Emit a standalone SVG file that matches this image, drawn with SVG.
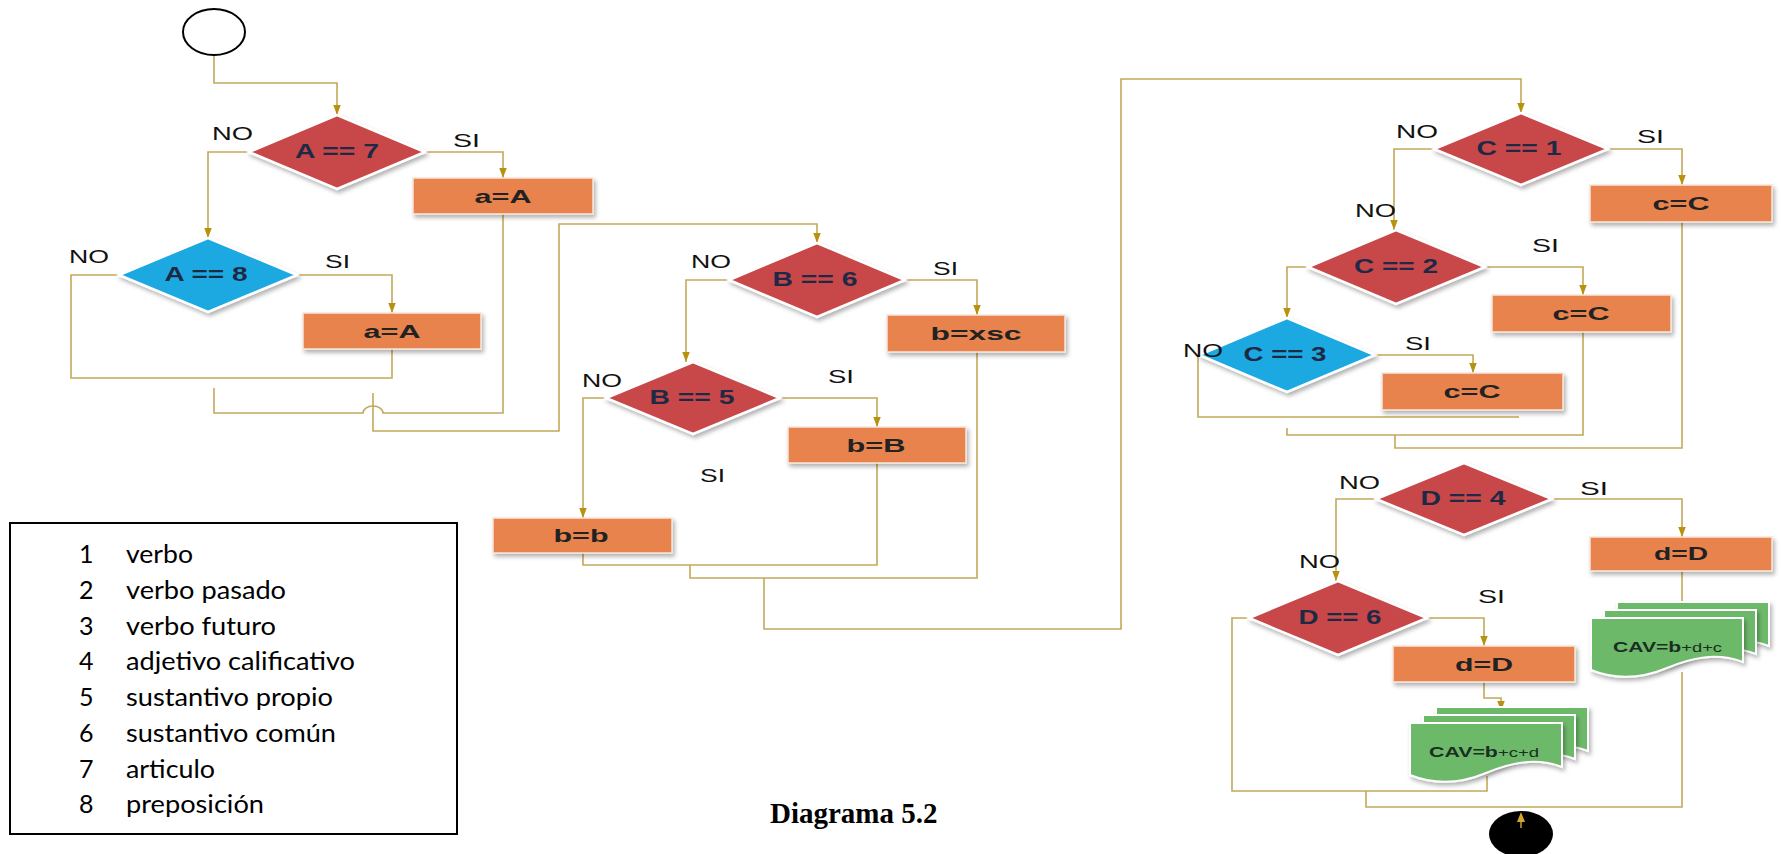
<svg xmlns="http://www.w3.org/2000/svg" width="1782" height="854" viewBox="0 0 1782 854">
<defs>
<style>
.bg{fill:#ffffff}
.cn{fill:none;stroke:#C2A95A;stroke-width:1.6}
.ar{marker-end:url(#arr)}
.dr{fill:#C8474A;stroke:#ffffff;stroke-width:2.5;filter:url(#sh)}
.db{fill:#1DA9E1;stroke:#ffffff;stroke-width:2.5;filter:url(#sh)}
.rc{fill:#E8834E;stroke:#f6e6dc;stroke-width:1.5;filter:url(#sh)}
.dc{fill:#6DB96B;stroke:#ffffff;stroke-width:2;filter:url(#sh)}
.nl{font-family:"Liberation Sans",Arial,sans-serif;font-weight:bold;font-size:21px;fill:#1E2A45;text-anchor:middle}
.rl{font-family:"Liberation Sans",Arial,sans-serif;font-weight:bold;font-size:19px;fill:#222222;text-anchor:middle}
.yn{font-family:"Liberation Sans",Arial,sans-serif;font-size:18px;fill:#111111}
.cv{font-family:"Liberation Sans",Arial,sans-serif;fill:#1B2E22}
.lg{font-family:Lato,"Open Sans",sans-serif;font-size:25px;fill:#000000}
.tt{font-family:"Liberation Serif","Times New Roman",serif;font-weight:bold;font-size:29px;fill:#000000}
</style>
<filter id="sh" x="-20%" y="-20%" width="140%" height="150%">
<feDropShadow dx="2" dy="3" stdDeviation="2" flood-color="#000000" flood-opacity="0.3"/>
</filter>
<marker id="arr" viewBox="0 0 12 10" refX="12" refY="5" markerWidth="10" markerHeight="12" markerUnits="userSpaceOnUse" orient="auto">
<path d="M0,0.5 L12,5 L0,9.5 Z" fill="#B8910E"/>
</marker>
<path id="doc" d="M0,0 H152 V44 C125,34 100,40 76,50 C52,60 25,62 0,52 Z"/>
</defs>
<rect class="bg" x="0" y="0" width="1782" height="854"/>

<g id="connectors">
<path class="cn ar" d="M214,55 V83 H337 V115"/>
<path class="cn ar" d="M249,152 H208 V238"/>
<path class="cn ar" d="M425,152 H503 V178"/>
<path class="cn ar" d="M297,275 H392 V313"/>
<path class="cn" d="M119,275 H71 V378 H392 V349"/>
<path class="cn" d="M214,388 V413 H363 A10,7 0 0 1 383,413 H503 V214"/>
<path class="cn ar" d="M373,393 V431 H559 V224 H817 V243"/>
<path class="cn ar" d="M905,280 H977 V315"/>
<path class="cn ar" d="M729,280 H686 V362"/>
<path class="cn ar" d="M780,398 H877 V427"/>
<path class="cn ar" d="M606,398 H583 V518"/>
<path class="cn" d="M583,553 V565 H877 V463"/>
<path class="cn" d="M690,565 V578 H977 V352"/>
<path class="cn ar" d="M764,578 V629 H1121 V79 H1521 V113"/>
<path class="cn ar" d="M1608,149 H1682 V185"/>
<path class="cn ar" d="M1434,149 H1394 V230"/>
<path class="cn ar" d="M1485,267 H1583 V295"/>
<path class="cn ar" d="M1308,267 H1287 V318"/>
<path class="cn ar" d="M1375,355 H1473 V373"/>
<path class="cn" d="M1198,355 V417 H1519"/>
<path class="cn" d="M1287,428 V435 H1583 V332"/>
<path class="cn" d="M1395,435 V448 H1682 V222"/>
<path class="cn ar" d="M1552,499 H1682 V537"/>
<path class="cn ar" d="M1376,499 H1336 V581"/>
<path class="cn" d="M1682,571 V602"/>
<path class="cn ar" d="M1427,618 H1484 V646"/>
<path class="cn ar" d="M1484,682 V698 H1501 V711"/>
<path class="cn" d="M1249,618 H1232 V791 H1487 V776"/>
<path class="cn" d="M1366,791 V807 H1682 V672"/>
</g>

<g id="start">
<ellipse cx="214" cy="32" rx="31" ry="23" fill="#ffffff" stroke="#000000" stroke-width="2"/>
</g>

<g id="dA7">
<polygon class="dr" points="337,115 425,152 337,189 249,152"/>
<text class="nl" x="337" y="158" textLength="84" lengthAdjust="spacingAndGlyphs">A == 7</text>
</g>
<g id="rA1">
<rect class="rc" x="413" y="178" width="180" height="36"/>
<text class="rl" x="503" y="203" textLength="57" lengthAdjust="spacingAndGlyphs">a=A</text>
</g>
<g id="dA8">
<polygon class="db" points="208,238 297,275 208,312 119,275"/>
<text class="nl" x="206" y="281" textLength="83" lengthAdjust="spacingAndGlyphs">A == 8</text>
</g>
<g id="rA2">
<rect class="rc" x="303" y="313" width="178" height="36"/>
<text class="rl" x="392" y="338" textLength="57" lengthAdjust="spacingAndGlyphs">a=A</text>
</g>

<g id="dB6">
<polygon class="dr" points="817,243 905,280 817,317 729,280"/>
<text class="nl" x="815" y="286" textLength="85" lengthAdjust="spacingAndGlyphs">B == 6</text>
</g>
<g id="rBxsc">
<rect class="rc" x="887" y="315" width="178" height="37"/>
<text class="rl" x="976" y="340" textLength="91" lengthAdjust="spacingAndGlyphs">b=xsc</text>
</g>
<g id="dB5">
<polygon class="dr" points="693,362 780,398 693,434 606,398"/>
<text class="nl" x="692" y="404" textLength="85" lengthAdjust="spacingAndGlyphs">B == 5</text>
</g>
<g id="rBB">
<rect class="rc" x="788" y="427" width="178" height="36"/>
<text class="rl" x="876" y="452" textLength="59" lengthAdjust="spacingAndGlyphs">b=B</text>
</g>
<g id="rbb">
<rect class="rc" x="493" y="518" width="179" height="35"/>
<text class="rl" x="581" y="542" textLength="55" lengthAdjust="spacingAndGlyphs">b=b</text>
</g>

<g id="dC1">
<polygon class="dr" points="1521,113 1608,149 1521,185 1434,149"/>
<text class="nl" x="1519" y="155" textLength="85" lengthAdjust="spacingAndGlyphs">C == 1</text>
</g>
<g id="rC1">
<rect class="rc" x="1590" y="185" width="182" height="37"/>
<text class="rl" x="1681" y="210" textLength="57" lengthAdjust="spacingAndGlyphs">c=C</text>
</g>
<g id="dC2">
<polygon class="dr" points="1396,230 1485,267 1396,304 1308,267"/>
<text class="nl" x="1396" y="273" textLength="84" lengthAdjust="spacingAndGlyphs">C == 2</text>
</g>
<g id="rC2">
<rect class="rc" x="1492" y="295" width="179" height="37"/>
<text class="rl" x="1581" y="320" textLength="57" lengthAdjust="spacingAndGlyphs">c=C</text>
</g>
<g id="dC3">
<polygon class="db" points="1287,318 1375,355 1287,392 1199,355"/>
<text class="nl" x="1285" y="361" textLength="83" lengthAdjust="spacingAndGlyphs">C == 3</text>
</g>
<g id="rC3">
<rect class="rc" x="1382" y="373" width="181" height="37"/>
<text class="rl" x="1472" y="398" textLength="57" lengthAdjust="spacingAndGlyphs">c=C</text>
</g>

<g id="dD4">
<polygon class="dr" points="1464,463 1552,499 1464,535 1376,499"/>
<text class="nl" x="1463" y="505" textLength="85" lengthAdjust="spacingAndGlyphs">D == 4</text>
</g>
<g id="rD1">
<rect class="rc" x="1590" y="537" width="182" height="34"/>
<text class="rl" x="1681" y="560" textLength="54" lengthAdjust="spacingAndGlyphs">d=D</text>
</g>
<g id="doc1">
<use href="#doc" class="dc" x="1617" y="602"/>
<use href="#doc" class="dc" x="1604" y="610"/>
<use href="#doc" class="dc" x="1591" y="618"/>
<text class="cv" x="1613" y="652" textLength="109" lengthAdjust="spacingAndGlyphs"><tspan font-weight="bold" font-size="15">CAV=b</tspan><tspan font-size="13">+d+c</tspan></text>
</g>
<g id="dD6">
<polygon class="dr" points="1338,581 1427,618 1338,655 1249,618"/>
<text class="nl" x="1340" y="624" textLength="83" lengthAdjust="spacingAndGlyphs">D == 6</text>
</g>
<g id="rD2">
<rect class="rc" x="1393" y="646" width="182" height="36"/>
<text class="rl" x="1484" y="671" textLength="58" lengthAdjust="spacingAndGlyphs">d=D</text>
</g>
<g id="doc2">
<use href="#doc" class="dc" x="1436" y="707"/>
<use href="#doc" class="dc" x="1423" y="715"/>
<use href="#doc" class="dc" x="1410" y="723"/>
<text class="cv" x="1429" y="757" textLength="110" lengthAdjust="spacingAndGlyphs"><tspan font-weight="bold" font-size="15">CAV=b</tspan><tspan font-size="13">+c+d</tspan></text>
</g>

<g id="end">
<ellipse cx="1521" cy="834" rx="32" ry="23" fill="#000000"/>
<line x1="1521" y1="828" x2="1521" y2="820" stroke="#C9A227" stroke-width="1.5"/>
<path d="M1517,822 L1521,812 L1525,822 Z" fill="#D4A92A"/>
</g>

<g id="labels">
<text class="yn" x="212" y="140" textLength="41" lengthAdjust="spacingAndGlyphs">NO</text>
<text class="yn" x="453" y="147" textLength="27" lengthAdjust="spacingAndGlyphs">SI</text>
<text class="yn" x="69" y="263" textLength="40" lengthAdjust="spacingAndGlyphs">NO</text>
<text class="yn" x="325" y="268" textLength="25" lengthAdjust="spacingAndGlyphs">SI</text>
<text class="yn" x="691" y="268" textLength="40" lengthAdjust="spacingAndGlyphs">NO</text>
<text class="yn" x="933" y="275" textLength="25" lengthAdjust="spacingAndGlyphs">SI</text>
<text class="yn" x="582" y="387" textLength="40" lengthAdjust="spacingAndGlyphs">NO</text>
<text class="yn" x="828" y="383" textLength="26" lengthAdjust="spacingAndGlyphs">SI</text>
<text class="yn" x="700" y="482" textLength="25" lengthAdjust="spacingAndGlyphs">SI</text>
<text class="yn" x="1396" y="138" textLength="42" lengthAdjust="spacingAndGlyphs">NO</text>
<text class="yn" x="1637" y="143" textLength="27" lengthAdjust="spacingAndGlyphs">SI</text>
<text class="yn" x="1355" y="217" textLength="41" lengthAdjust="spacingAndGlyphs">NO</text>
<text class="yn" x="1532" y="252" textLength="27" lengthAdjust="spacingAndGlyphs">SI</text>
<text class="yn" x="1183" y="357" textLength="40" lengthAdjust="spacingAndGlyphs">NO</text>
<text class="yn" x="1405" y="350" textLength="26" lengthAdjust="spacingAndGlyphs">SI</text>
<text class="yn" x="1339" y="489" textLength="41" lengthAdjust="spacingAndGlyphs">NO</text>
<text class="yn" x="1580" y="495" textLength="28" lengthAdjust="spacingAndGlyphs">SI</text>
<text class="yn" x="1299" y="568" textLength="41" lengthAdjust="spacingAndGlyphs">NO</text>
<text class="yn" x="1478" y="603" textLength="27" lengthAdjust="spacingAndGlyphs">SI</text>
</g>

<g id="legend">
<rect x="10" y="523" width="447" height="311" fill="#ffffff" stroke="#000000" stroke-width="2"/>
<text class="lg" x="79" y="563">1</text><text class="lg" x="126" y="563" textLength="67" lengthAdjust="spacingAndGlyphs">verbo</text>
<text class="lg" x="79" y="599">2</text><text class="lg" x="126" y="599" textLength="160" lengthAdjust="spacingAndGlyphs">verbo pasado</text>
<text class="lg" x="79" y="635">3</text><text class="lg" x="126" y="635" textLength="150" lengthAdjust="spacingAndGlyphs">verbo futuro</text>
<text class="lg" x="79" y="670">4</text><text class="lg" x="126" y="670" textLength="229" lengthAdjust="spacingAndGlyphs">adjetivo calificativo</text>
<text class="lg" x="79" y="706">5</text><text class="lg" x="126" y="706" textLength="207" lengthAdjust="spacingAndGlyphs">sustantivo propio</text>
<text class="lg" x="79" y="742">6</text><text class="lg" x="126" y="742" textLength="210" lengthAdjust="spacingAndGlyphs">sustantivo común</text>
<text class="lg" x="79" y="778">7</text><text class="lg" x="126" y="778" textLength="89" lengthAdjust="spacingAndGlyphs">articulo</text>
<text class="lg" x="79" y="813">8</text><text class="lg" x="126" y="813" textLength="138" lengthAdjust="spacingAndGlyphs">preposición</text>
</g>

<g id="title">
<text class="tt" x="770" y="823">Diagrama 5.2</text>
</g>
</svg>
